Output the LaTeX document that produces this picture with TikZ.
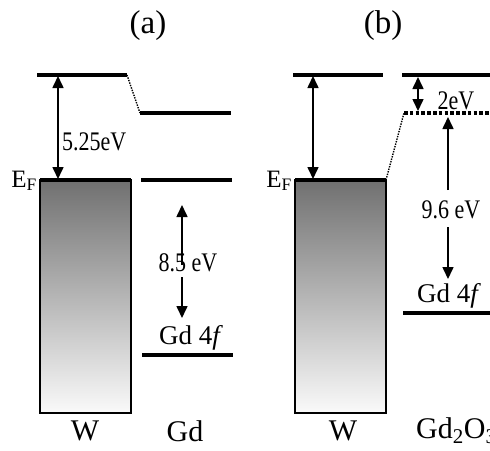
\documentclass[tikz,border=0pt]{standalone}
\usepackage{fontspec}
\setmainfont{Liberation Serif}
\usetikzlibrary{arrows.meta}

\begin{document}
\begin{tikzpicture}[x=1pt,y=-1pt,
    level/.style={line width=3.6pt},
    slant/.style={line width=1.4pt,dash pattern=on 1.4pt off 1.2pt},
    gap/.style={line width=1.6pt,{Triangle[length=12pt,width=11pt]}-{Triangle[length=12pt,width=11pt]}},
    half/.style={line width=1.6pt,-{Triangle[length=12pt,width=11pt]}},
    val/.style={font=\fontsize{22}{24}\selectfont,inner sep=0pt,yscale=1.22},
    matlabel/.style={font=\fontsize{30}{32}\selectfont,inner sep=0pt},
    band/.style={top color=black!56,bottom color=black!2}]
  \clip (0,0) rectangle (490,450);
  % panel (a): W and Gd
  \node[font=\fontsize{33}{35}\selectfont] (pa) at (148,26) {(a)};
  \coordinate (WaVacL) at (37,75);  \coordinate (WaVacR) at (127,75);
  \coordinate (GdVacL) at (140,113); \coordinate (GdVacR) at (231,113);
  \coordinate (GdFL) at (141,180);  \coordinate (GdFR) at (232,180);
  \coordinate (GdfL) at (142,355);  \coordinate (GdfR) at (233,355);
  \shade[band] (40,180) rectangle (131,413);
  \draw[line width=1.5pt] (40,180) rectangle (131,413);
  \draw[level] (40,180) -- (131,180);
  \draw[level] (WaVacL) -- (WaVacR);
  \draw[slant] (WaVacR) -- (GdVacL);
  \draw[level] (GdVacL) -- (GdVacR);
  \draw[level] (GdFL) -- (GdFR);
  \draw[level] (GdfL) -- (GdfR);
  \coordinate (WaUp) at (58,76); \coordinate (WaDn) at (58,179);
  \draw[gap] (WaUp) -- (WaDn);
  \node[val,anchor=west] (wfa) at (62,142) {5.25eV};
  \node[font=\fontsize{25}{27}\selectfont,inner sep=0pt,anchor=base east] (efa) at (37,187) {E\textsubscript{F}};
  \node[val] (d85) at (188,263) {8.5 eV};
  \coordinate (d85t) at (182,205); \coordinate (d85b) at (182,318);
  \draw[half] (182,265) -- (d85t);
  \draw[half] (182,277) -- (d85b);
  \node[font=\fontsize{27}{29}\selectfont,inner sep=0pt] (gfa) at (191,338) {Gd 4\textit{f}};
  \node[matlabel] (Wa) at (85,431) {W};
  \node[matlabel] (Gda) at (185,431) {Gd};
  % panel (b): W and Gd2O3
  \node[font=\fontsize{33}{35}\selectfont] (pb) at (383,26) {(b)};
  \coordinate (WbVacL) at (293,75); \coordinate (WbVacR) at (383,75);
  \coordinate (OxVacL) at (402,75); \coordinate (OxVacR) at (492,75);
  \coordinate (OxAffL) at (404,113); \coordinate (OxAffR) at (492,113);
  \coordinate (OxfL) at (403,313);  \coordinate (OxfR) at (492,313);
  \coordinate (WbF) at (386,180);
  \shade[band] (295,180) rectangle (386,413);
  \draw[line width=1.5pt] (295,180) rectangle (386,413);
  \draw[level] (295,180) -- (WbF);
  \draw[level] (WbVacL) -- (WbVacR);
  \draw[level] (OxVacL) -- (OxVacR);
  \draw[slant] (WbF) -- (OxAffL);
  \draw[line width=3.6pt,dash pattern=on 3.6pt off 2.2pt] (OxAffL) -- (OxAffR);
  \draw[level] (OxfL) -- (OxfR);
  \coordinate (WbUp) at (313,76); \coordinate (WbDn) at (313,179);
  \draw[gap] (WbUp) -- (WbDn);
  \coordinate (eaUp) at (418,77); \coordinate (eaDn) at (418,111);
  \draw[gap] (eaUp) -- (eaDn);
  \node[val] (d2) at (456,101) {2eV};
  \node[val] (d96) at (451,210) {9.6 eV};
  \coordinate (d96t) at (448,117); \coordinate (d96b) at (448,279);
  \draw[half] (448,190) -- (d96t);
  \draw[half] (448,227) -- (d96b);
  \node[font=\fontsize{27}{29}\selectfont,inner sep=0pt] (gfb) at (449,296) {Gd 4\textit{f}};
  \node[font=\fontsize{25}{27}\selectfont,inner sep=0pt,anchor=base east] (efb) at (292,187) {E\textsubscript{F}};
  \node[matlabel] (Wb) at (343,431) {W};
  \node[matlabel,anchor=west] (Gdb) at (416,431) {Gd\textsubscript{2}O\textsubscript{3}};
\end{tikzpicture}
\end{document}
